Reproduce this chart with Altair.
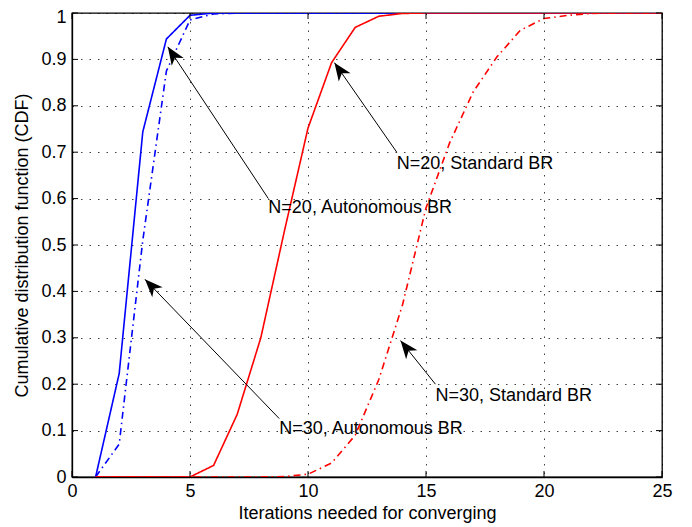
import math
import altair as alt
import pandas as pd

# ---------------- data ----------------
iterations = [1, 2, 3, 4, 5, 6, 7, 8, 9, 10, 11, 12, 13, 14, 15, 16, 17, 18, 19, 20, 21, 22, 23, 24, 25]
n20_autonomous = [0, 0.223, 0.744, 0.944, 0.995, 1, 1, 1, 1, 1, 1, 1, 1, 1, 1, 1, 1, 1, 1, 1, 1, 1, 1, 1, 1]
n30_autonomous = [0, 0.071, 0.51, 0.875, 0.985, 0.998, 1, 1, 1, 1, 1, 1, 1, 1, 1, 1, 1, 1, 1, 1, 1, 1, 1, 1, 1]
n20_standard = [0, 0, 0, 0, 0, 0.025, 0.135, 0.30, 0.53, 0.752, 0.893, 0.969, 0.993, 0.999, 1, 1, 1, 1, 1, 1, 1, 1, 1, 1, 1]
n30_standard = [0, 0, 0, 0, 0, 0, 0, 0, 0.001, 0.006, 0.03, 0.09, 0.21, 0.37, 0.58, 0.72, 0.83, 0.905, 0.963, 0.988, 0.995, 0.999, 1, 1, 1]

series_names = ["N=20, Autonomous BR", "N=30, Autonomous BR", "N=20, Standard BR", "N=30, Standard BR"]
series_colors = ["#0000ff", "#0000ff", "#ff0000", "#ff0000"]
series_dashes = [[1, 0], [7, 4, 1.5, 4], [1, 0], [7, 4, 1.5, 4]]

x_ticks = [0, 5, 10, 15, 20, 25]
y_ticks = [0, 0.1, 0.2, 0.3, 0.4, 0.5, 0.6, 0.7, 0.8, 0.9, 1]

ann_text = ["N=20, Autonomous BR", "N=20, Standard BR", "N=30, Autonomous BR", "N=30, Standard BR"]
ann_text_x = [8.32, 13.76, 8.78, 15.40]
ann_text_y = [0.58, 0.674, 0.104, 0.174]
arrow_start_x = [8.32, 13.76, 8.78, 15.40]
arrow_start_y = [0.60, 0.70, 0.126, 0.20]
arrow_tip_x = [4.06, 11.12, 3.09, 13.92]
arrow_tip_y = [0.927, 0.893, 0.426, 0.294]

x_title = "Iterations needed for converging"
y_title = "Cumulative distribution function (CDF)"

# ---------------- layout ----------------
W, H = 590, 464
X_MAX, Y_MAX = 25, 1
FONT = "Liberation Sans"
FS = 18

rows = []
for name, vals in zip(series_names, [n20_autonomous, n30_autonomous, n20_standard, n30_standard]):
    for it, v in zip(iterations, vals):
        rows.append({"iter": it, "cdf": v, "series": name})
df = pd.DataFrame(rows)

px_x = W / X_MAX
px_y = H / Y_MAX
arrows = pd.DataFrame({
    "sx": arrow_start_x, "sy": arrow_start_y,
    "tx": arrow_tip_x, "ty": arrow_tip_y,
})
arrows["angle"] = [
    math.degrees(math.atan2((tx - sx) * px_x, (ty - sy) * px_y)) % 360
    for sx, sy, tx, ty in zip(arrows.sx, arrows.sy, arrows.tx, arrows.ty)
]
labels = pd.DataFrame({"text": ann_text, "x": ann_text_x, "y": ann_text_y})

xscale = alt.Scale(domain=[0, X_MAX], nice=False, zero=False)
yscale = alt.Scale(domain=[0, Y_MAX], nice=False, zero=False)

base = alt.Chart(df)

lines = base.mark_line(strokeWidth=1.6, clip=True).encode(
    x=alt.X("iter:Q", scale=xscale,
            axis=alt.Axis(values=x_ticks, format="d", title=x_title, grid=True,
                          labelFlush=False, labelPadding=5, titlePadding=4)),
    y=alt.Y("cdf:Q", scale=yscale,
            axis=alt.Axis(values=y_ticks, format=".1~f", title=y_title, grid=True,
                          labelPadding=6, titlePadding=9,
                          labelOffset={"condition": {"test": "datum.value == 1", "value": 4}, "value": 0})),
    color=alt.Color("series:N", scale=alt.Scale(domain=series_names, range=series_colors), legend=None),
    strokeDash=alt.StrokeDash("series:N", scale=alt.Scale(domain=series_names, range=series_dashes), legend=None),
    detail="series:N",
)

arrow_lines = alt.Chart(arrows).mark_rule(color="black", strokeWidth=1).encode(
    x=alt.X("sx:Q", scale=xscale), y=alt.Y("sy:Q", scale=yscale),
    x2="tx:Q", y2="ty:Q",
)

heads = alt.Chart(arrows).mark_point(
    shape="M0,0 L0.4,1 L0,0.72 L-0.4,1 Z", filled=True, color="black",
    opacity=1, size=1296, strokeWidth=0,
).encode(
    x=alt.X("tx:Q", scale=xscale), y=alt.Y("ty:Q", scale=yscale),
    angle=alt.Angle("angle:Q", scale=None),
)

texts = alt.Chart(labels).mark_text(
    align="left", baseline="middle", font=FONT, fontSize=FS, color="black",
).encode(
    x=alt.X("x:Q", scale=xscale), y=alt.Y("y:Q", scale=yscale), text="text:N",
)

xt = pd.DataFrame({"t": x_ticks})
yt = pd.DataFrame({"t": y_ticks})
tick_bottom = alt.Chart(xt).mark_rule(color="black", strokeWidth=1).encode(
    x=alt.X("t:Q", scale=xscale), y=alt.value(H), y2=alt.value(H - 6))
tick_top = alt.Chart(xt).mark_rule(color="black", strokeWidth=1).encode(
    x=alt.X("t:Q", scale=xscale), y=alt.value(0), y2=alt.value(6))
tick_left = alt.Chart(yt).mark_rule(color="black", strokeWidth=1).encode(
    y=alt.Y("t:Q", scale=yscale), x=alt.value(0), x2=alt.value(6))
tick_right = alt.Chart(yt).mark_rule(color="black", strokeWidth=1).encode(
    y=alt.Y("t:Q", scale=yscale), x=alt.value(W), x2=alt.value(W - 6))

chart = alt.layer(
    lines, tick_bottom, tick_top, tick_left, tick_right, arrow_lines, heads, texts
).properties(
    width=W, height=H,
    padding={"left": 64, "top": 5, "right": 16, "bottom": 47},
    autosize=alt.AutoSizeParams(type="none"),
    background="white",
).configure_view(
    stroke="black", strokeWidth=1.3,
).configure_axis(
    labelFont=FONT, titleFont=FONT, labelFontSize=FS, titleFontSize=FS,
    titleFontWeight="normal", labelColor="black", titleColor="black",
    domainColor="black", domainWidth=1.3, ticks=False,
    gridColor="black", gridDash=[1.5, 7], gridOpacity=0.75, gridWidth=1,
)

chart.save("out.html", embed_options={"renderer": "svg", "actions": False})
